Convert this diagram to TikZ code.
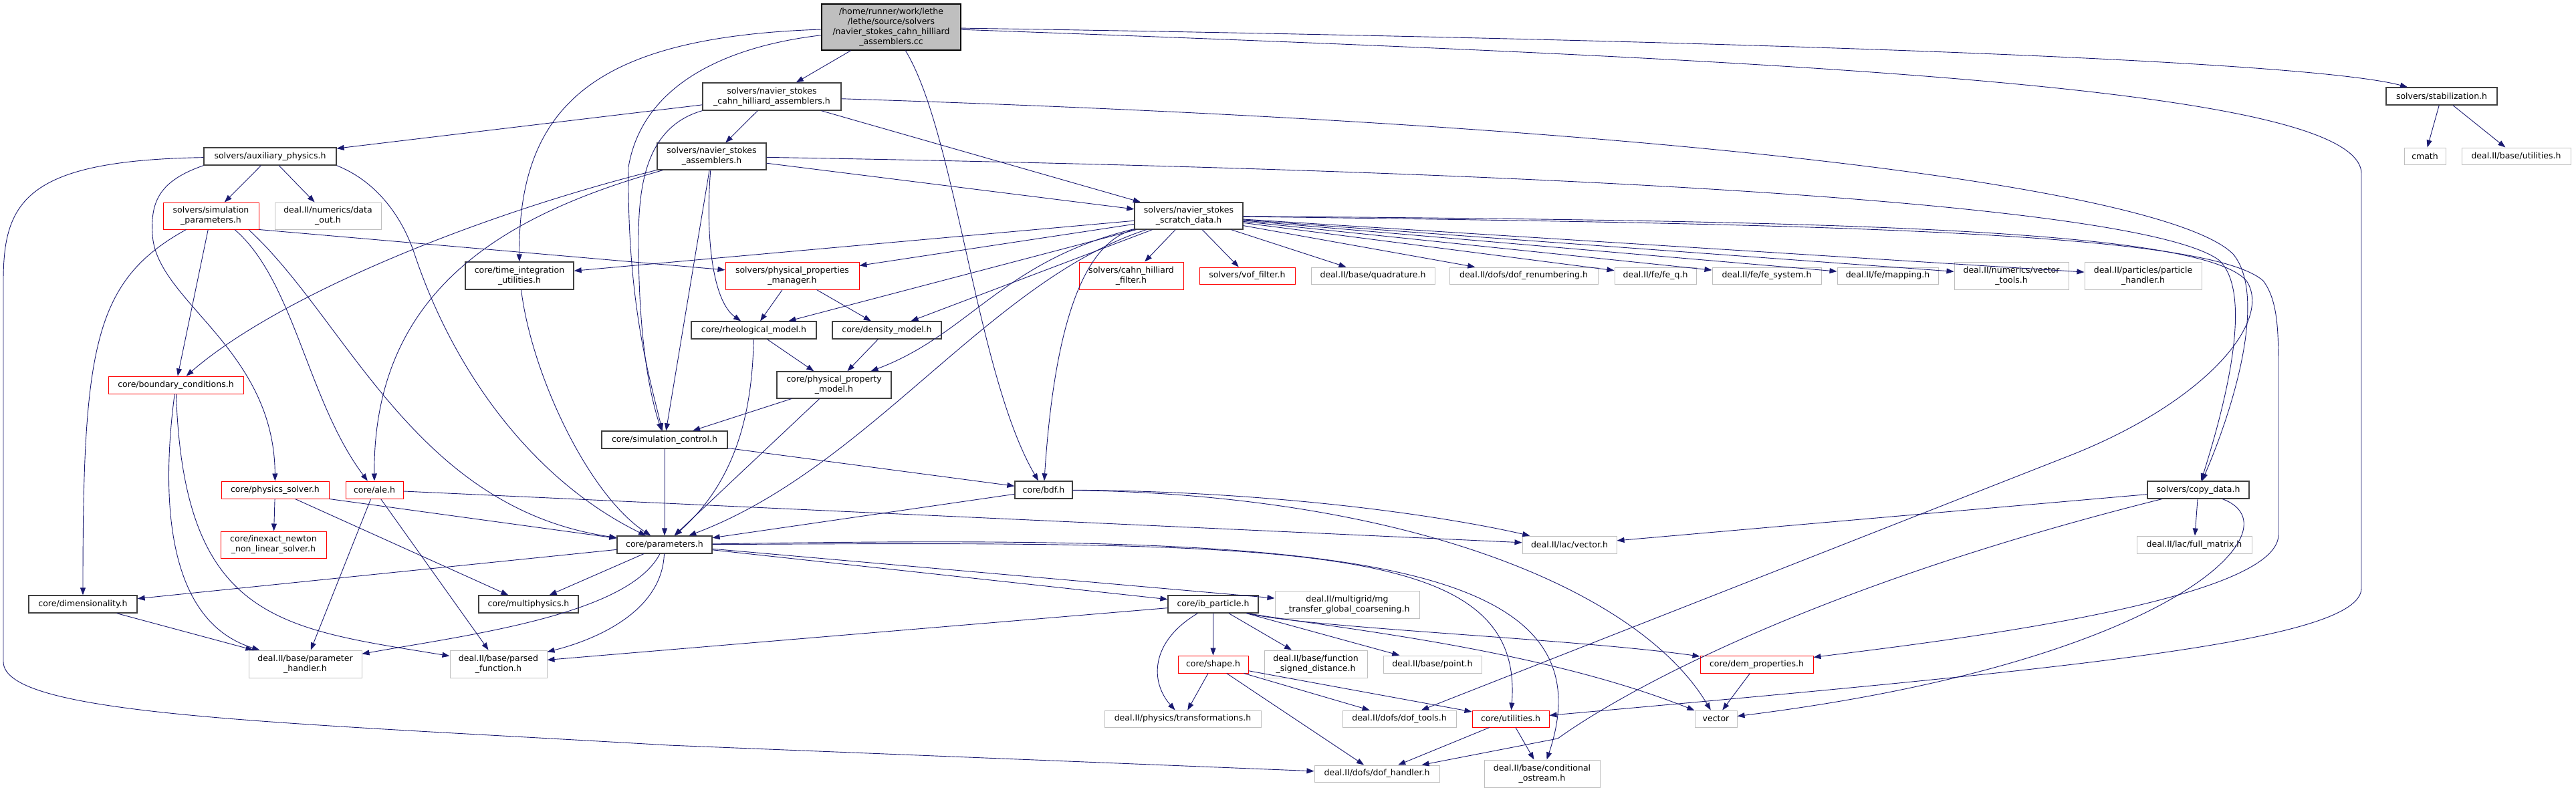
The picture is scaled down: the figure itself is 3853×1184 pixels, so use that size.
\documentclass[tikz,border=0pt]{standalone}
\usepackage{fontspec}
\setmainfont{DejaVu Sans}
\usetikzlibrary{arrows.meta}
\usetikzlibrary{positioning}

\definecolor{edgeblue}{HTML}{191970}
\definecolor{boxgray}{HTML}{BFBFBF}
\definecolor{boxdark}{HTML}{404040}

\begin{document}
\begin{tikzpicture}[x=1pt, y=-1pt,
        every node/.style={font=\fontsize{12.5}{15}\selectfont, inner sep=1pt, align=center},
        rootnode/.style={draw=black, line width=1.3pt, fill=boxgray},
        hdr/.style={draw=boxdark, line width=1.3pt, fill=white},
        redhdr/.style={draw=red, line width=1pt, fill=white},
        syshdr/.style={draw=boxgray, line width=1pt, fill=white},
        inc/.style={draw=edgeblue, line width=0.9pt, -{Triangle[length=11pt,width=8pt]}}]

        \useasboundingbox (0,0) rectangle (3853,1184);

        % The file itself
        \node [rootnode, minimum width=208, minimum height=69] (root) at (1333,40.5) {/home/runner/work/lethe\\/lethe/source/solvers\\/navier\_stokes\_cahn\_hilliard\\\_assemblers.cc};

        % Solver headers
        \node [hdr, minimum width=207, minimum height=41] (nsch) at (1154.5,144.5) {solvers/navier\_stokes\\\_cahn\_hilliard\_assemblers.h};
        \node [hdr, minimum width=163, minimum height=40] (nsasm) at (1064.5,234) {solvers/navier\_stokes\\\_assemblers.h};
        \node [hdr, minimum width=198, minimum height=26] (aux) at (404,234) {solvers/auxiliary\_physics.h};
        \node [redhdr, minimum width=143, minimum height=40] (simparam) at (315.5,323) {solvers/simulation\\\_parameters.h};
        \node [syshdr, minimum width=159, minimum height=40] (dataout) at (490.5,323) {deal.II/numerics/data\\\_out.h};
        \node [hdr, minimum width=162, minimum height=40] (scratch) at (1778,323) {solvers/navier\_stokes\\\_scratch\_data.h};
        \node [hdr, minimum width=162, minimum height=41] (timeint) at (777,412.5) {core/time\_integration\\\_utilities.h};
        \node [redhdr, minimum width=200, minimum height=41] (ppm) at (1185,412.5) {solvers/physical\_properties\\\_manager.h};
        \node [redhdr, minimum width=156, minimum height=41] (chfilter) at (1692,412.5) {solvers/cahn\_hilliard\\\_filter.h};
        \node [redhdr, minimum width=143, minimum height=25] (voffilter) at (1865.5,412.5) {solvers/vof\_filter.h};
        \node [syshdr, minimum width=185, minimum height=25] (quadrature) at (2053.5,412.5) {deal.II/base/quadrature.h};
        \node [syshdr, minimum width=222, minimum height=25] (dofrenum) at (2279,412.5) {deal.II/dofs/dof\_renumbering.h};
        \node [syshdr, minimum width=122, minimum height=25] (feq) at (2476,412.5) {deal.II/fe/fe\_q.h};
        \node [syshdr, minimum width=163, minimum height=25] (fesystem) at (2642.5,412.5) {deal.II/fe/fe\_system.h};
        \node [syshdr, minimum width=151, minimum height=25] (mapping) at (2823.5,412.5) {deal.II/fe/mapping.h};
        \node [syshdr, minimum width=171, minimum height=41] (vectortools) at (3008.5,412.5) {deal.II/numerics/vector\\\_tools.h};
        \node [syshdr, minimum width=175, minimum height=41] (particlehandler) at (3205.5,412.5) {deal.II/particles/particle\\\_handler.h};
        \node [hdr, minimum width=166, minimum height=26] (stab) at (3652,144) {solvers/stabilization.h};
        \node [syshdr, minimum width=62, minimum height=25] (cmath) at (3627,233.5) {cmath};
        \node [syshdr, minimum width=163, minimum height=25] (baseutil) at (3763.5,233.5) {deal.II/base/utilities.h};
        \node [hdr, minimum width=152, minimum height=26] (copydata) at (3288,733) {solvers/copy\_data.h};
        \node [syshdr, minimum width=172, minimum height=26] (fullmatrix) at (3282,815) {deal.II/lac/full\_matrix.h};

        % Core headers
        \node [hdr, minimum width=187, minimum height=26] (rheo) at (1127.5,494) {core/rheological\_model.h};
        \node [hdr, minimum width=163, minimum height=26] (density) at (1326.5,494) {core/density\_model.h};
        \node [hdr, minimum width=171, minimum height=40] (ppmodel) at (1247.5,576) {core/physical\_property\\\_model.h};
        \node [redhdr, minimum width=202, minimum height=26] (bc) at (263,576) {core/boundary\_conditions.h};
        \node [hdr, minimum width=188, minimum height=26] (simctl) at (994,658) {core/simulation\_control.h};
        \node [redhdr, minimum width=161, minimum height=26] (physsolver) at (411.5,733) {core/physics\_solver.h};
        \node [redhdr, minimum width=86, minimum height=26] (ale) at (560,733) {core/ale.h};
        \node [hdr, minimum width=86, minimum height=26] (bdf) at (1561,733) {core/bdf.h};
        \node [redhdr, minimum width=158, minimum height=40] (inexact) at (409,815) {core/inexact\_newton\\\_non\_linear\_solver.h};
        \node [hdr, minimum width=142, minimum height=26] (params) at (994,815) {core/parameters.h};
        \node [syshdr, minimum width=141, minimum height=26] (lacvec) at (2347.5,815) {deal.II/lac/vector.h};
        \node [hdr, minimum width=162, minimum height=26] (dim) at (124,904) {core/dimensionality.h};
        \node [hdr, minimum width=149, minimum height=26] (multiphysics) at (790.5,904) {core/multiphysics.h};
        \node [hdr, minimum width=135, minimum height=26] (ibparticle) at (1814.5,904) {core/ib\_particle.h};
        \node [syshdr, minimum width=216, minimum height=41] (mgtransfer) at (2015,904.5) {deal.II/multigrid/mg\\\_transfer\_global\_coarsening.h};
        \node [syshdr, minimum width=169, minimum height=41] (paramhandler) at (456.5,993.5) {deal.II/base/parameter\\\_handler.h};
        \node [syshdr, minimum width=145, minimum height=41] (parsedfn) at (745.5,993.5) {deal.II/base/parsed\\\_function.h};
        \node [redhdr, minimum width=105, minimum height=26] (shape) at (1814.5,994) {core/shape.h};
        \node [syshdr, minimum width=154, minimum height=41] (fsd) at (1968,993.5) {deal.II/base/function\\\_signed\_distance.h};
        \node [syshdr, minimum width=147, minimum height=26] (point) at (2142.5,994) {deal.II/base/point.h};
        \node [redhdr, minimum width=169, minimum height=26] (demprop) at (2627.5,994) {core/dem\_properties.h};
        \node [syshdr, minimum width=234, minimum height=25] (transf) at (1769,1075.5) {deal.II/physics/transformations.h};
        \node [syshdr, minimum width=170, minimum height=25] (doftools) at (2093,1075.5) {deal.II/dofs/dof\_tools.h};
        \node [redhdr, minimum width=115, minimum height=25] (cutil) at (2259.5,1075.5) {core/utilities.h};
        \node [syshdr, minimum width=63, minimum height=25] (vector) at (2566.5,1075.5) {vector};
        \node [syshdr, minimum width=187, minimum height=25] (dofhandler) at (2059.5,1157.5) {deal.II/dofs/dof\_handler.h};
        \node [syshdr, minimum width=173, minimum height=41] (condostream) at (2306.5,1157.5) {deal.II/base/conditional\\\_ostream.h};

        % Direct includes
        \foreach \src/\dst in {root/nsch, nsch/aux, nsch/nsasm, nsch/scratch, nsasm/scratch, nsasm/simctl,
                aux/simparam, aux/dataout, simparam/bc, simparam.south east/ppm,
                scratch/timeint, scratch/ppm, scratch/rheo, scratch/density, scratch/chfilter, scratch/voffilter,
                scratch/quadrature, scratch/dofrenum, scratch/feq, scratch/fesystem, scratch/mapping,
                scratch/vectortools, scratch/particlehandler,
                ppm/rheo, ppm/density, rheo/ppmodel, density/ppmodel, ppmodel/simctl, ppmodel/params,
                simctl/params, simctl/bdf, bdf/params,
                physsolver/inexact, physsolver/multiphysics, physsolver.south east/params,
                ale/paramhandler, ale/parsedfn, ale/lacvec,
                params/dim, params/multiphysics, params/ibparticle, params/mgtransfer, dim/paramhandler,
                ibparticle/parsedfn, ibparticle/shape, ibparticle/fsd, ibparticle/point,
                shape/transf, shape/doftools, shape/cutil, shape/dofhandler,
                demprop/vector, cutil/dofhandler, cutil/condostream,
                copydata/lacvec, copydata/fullmatrix, stab/cmath, stab/baseutil} {
            \draw [inc] (\src) -- (\dst);
        }

        % Bent includes, top part
        \draw [inc] (root) .. controls (900,55) and (775,150) .. (timeint);
        \draw [inc] (root) .. controls (1080,70) and (960,130) .. (940,250) .. controls (938,450) and (970,560) .. (simctl);
        \draw [inc] (nsch.south west) .. controls (965,190) and (955,280) .. (955,360) .. controls (955,520) and (975,600) .. (simctl);
        \draw [inc] (root) .. controls (1430,200) and (1460,560) .. (bdf);
        \draw [inc] (root) .. controls (2600,60) and (3450,90) .. (stab);
        \draw [inc] (root) .. controls (2700,90) and (3532,130) .. (3532,260) -- (3532,880) .. controls (3532,960) and (3100,1000) .. (cutil);
        \draw [inc] (nsch) .. controls (2600,190) and (3250,290) .. (3340,380) .. controls (3390,440) and (3345,600) .. (copydata);
        \draw [inc] (nsasm) .. controls (2600,260) and (3230,320) .. (3320,390) .. controls (3370,440) and (3330,600) .. (copydata);
        \draw [inc] (nsasm) .. controls (1055,350) and (1065,450) .. (rheo);
        \draw [inc] (nsasm) .. controls (720,320) and (420,440) .. (bc);
        \draw [inc] (nsasm) .. controls (760,320) and (558,430) .. (ale);

        % Bent includes, left part
        \draw [inc] (aux.south west) .. controls (240,270) and (225,300) .. (228,350) .. controls (232,450) and (410,520) .. (physsolver);
        \draw [inc] (aux.south east) .. controls (560,270) and (600,320) .. (620,380) .. controls (680,560) and (800,720) .. (params);
        \draw [inc] (aux) .. controls (40,240) and (5,300) .. (5,420) -- (5,990) .. controls (5,1070) and (400,1080) .. (1000,1115) -- (dofhandler);
        \draw [inc] (simparam) .. controls (140,420) and (124,520) .. (dim);
        \draw [inc] (simparam.-30) .. controls (440,420) and (460,600) .. (ale);
        \draw [inc] (simparam.-20) .. controls (520,480) and (620,760) .. (params);
        \draw [inc] (bc) .. controls (240,750) and (250,930) .. (paramhandler);
        \draw [inc] (bc) .. controls (275,930) and (420,940) .. (parsedfn);
        \draw [inc] (timeint) .. controls (795,560) and (880,740) .. (params);
        \draw [inc] (rheo) .. controls (1125,620) and (1100,720) .. (params);

        % Bent includes, scratch data
        \draw [inc] (scratch) .. controls (1480,420) and (1300,700) .. (params);
        \draw [inc] (scratch) .. controls (1610,365) and (1575,520) .. (bdf);
        \draw [inc] (scratch) .. controls (1500,390) and (1450,500) .. (ppmodel);
        \draw [inc] (scratch) .. controls (2700,335) and (3300,345) .. (3385,420) .. controls (3408,450) and (3408,500) .. (3408,560) -- (3408,800) .. controls (3408,900) and (2900,960) .. (demprop);
        \draw [inc] (scratch) .. controls (2700,330) and (3290,340) .. (3360,420) .. controls (3400,480) and (3300,600) .. (3100,680) -- (doftools);

        % Bent includes, lower part
        \draw [inc] (params) .. controls (940,920) and (700,950) .. (paramhandler);
        \draw [inc] (params) .. controls (990,920) and (880,960) .. (parsedfn);
        \draw [inc] (params) .. controls (1950,810) and (2280,810) .. (cutil);
        \draw [inc] (params) .. controls (1950,800) and (2420,820) .. (condostream);
        \draw [inc] (bdf) .. controls (1900,735) and (2150,770) .. (lacvec);
        \draw [inc] (bdf) .. controls (2100,740) and (2450,880) .. (vector);
        \draw [inc] (ibparticle) .. controls (1720,960) and (1720,1020) .. (transf);
        \draw [inc] (ibparticle.-15) .. controls (1960,940) and (2350,955) .. (demprop);
        \draw [inc] (ibparticle.-15) .. controls (2000,940) and (2300,970) .. (vector);
        \draw [inc] (copydata) .. controls (2700,880) and (2420,1040) .. (2330,1105) -- (dofhandler);
        \draw [inc] (copydata) .. controls (3440,790) and (3250,990) .. (vector);

\end{tikzpicture}
\end{document}
